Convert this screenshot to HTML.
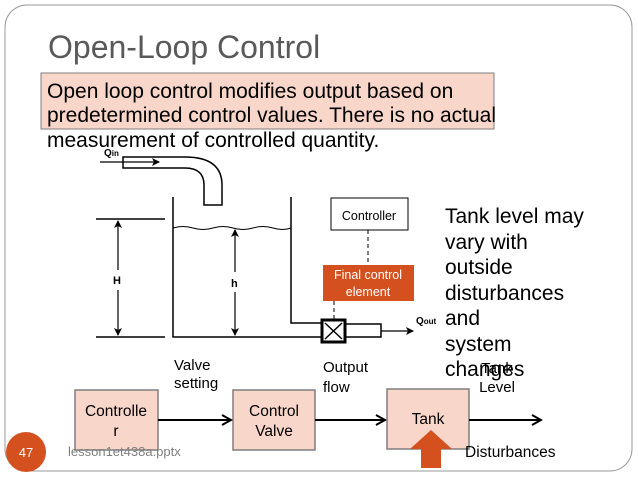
<!DOCTYPE html>
<html><head><style>html,body{margin:0;padding:0;background:#fff}svg{display:block}</style></head>
<body>
<svg width="638" height="478" viewBox="0 0 638 478" xmlns="http://www.w3.org/2000/svg" font-family="Liberation Sans, sans-serif">
<defs>
<marker id="a" markerWidth="8" markerHeight="8" refX="7" refY="4" orient="auto" markerUnits="userSpaceOnUse"><path d="M0,0 L8,4 L0,8 L2,4 Z" fill="#000"/></marker>
<marker id="b" markerWidth="12" markerHeight="12" refX="10" refY="6" orient="auto" markerUnits="userSpaceOnUse"><path d="M1,1 L10,6 L1,11" fill="none" stroke="#000" stroke-width="2"/></marker>
</defs>
<rect x="5" y="5" width="627" height="466" rx="22" fill="#fff" stroke="#999" stroke-width="1"/>
<text x="48" y="58" font-size="32" fill="#595959">Open-Loop Control</text>
<rect x="41" y="73" width="453" height="56" fill="#f8d6ca" stroke="#7f7f7f"/>
<g font-size="21" fill="#000">
<text x="47" y="98">Open loop control modifies output based on</text>
<text x="47" y="122">predetermined control values.  There is no actual</text>
<text x="47" y="147">measurement of controlled quantity.</text>
</g>
<g fill="none" stroke="#000" stroke-width="1.5">
<path d="M123,157 H185 Q222,157 222,185 V205 H204 V185 Q204,168 185,168 H123 Z"/>
<path d="M173,197 V337 H322"/>
<path d="M291,197 V323 H322"/>
<path d="M173,228 q10,-3 20,0 t20,0 t20,0 t20,0 t20,0 t18,0" stroke-width="1"/>
<line x1="96" y1="219" x2="165" y2="219"/>
<line x1="96" y1="337" x2="165" y2="337"/>
<rect x="345" y="324" width="36" height="13"/>
</g>
<line x1="100" y1="162" x2="159" y2="162" stroke="#000" stroke-width="1.2" marker-end="url(#a)"/>
<text x="104" y="156" font-size="10" font-weight="bold">Q<tspan font-size="8">in</tspan></text>
<line x1="118" y1="270" x2="118" y2="221" stroke="#000" stroke-width="1.2" marker-end="url(#a)"/>
<line x1="118" y1="290" x2="118" y2="335" stroke="#000" stroke-width="1.2" marker-end="url(#a)"/>
<text x="113" y="284" font-size="11" font-weight="bold">H</text>
<line x1="235" y1="272" x2="235" y2="230" stroke="#000" stroke-width="1.2" marker-end="url(#a)"/>
<line x1="235" y1="292" x2="235" y2="335" stroke="#000" stroke-width="1.2" marker-end="url(#a)"/>
<text x="231" y="287" font-size="11" font-weight="bold">h</text>
<rect x="322" y="320" width="23" height="22" fill="#fff" stroke="#000" stroke-width="3"/>
<path d="M325,323 L342,339 M342,323 L325,339" stroke="#000" stroke-width="1.5"/>
<line x1="381" y1="331" x2="413" y2="331" stroke="#000" stroke-width="1.2" marker-end="url(#a)"/>
<text x="416" y="324" font-size="10" font-weight="bold">Q<tspan font-size="8">out</tspan></text>
<rect x="331" y="198" width="77" height="32" fill="#fff" stroke="#000"/>
<text x="369" y="220" font-size="12.5" text-anchor="middle">Controller</text>
<line x1="368" y1="230" x2="368" y2="265" stroke="#000" stroke-dasharray="4,3"/>
<rect x="323" y="265" width="91" height="36" fill="#d4501f"/>
<text x="368" y="279" font-size="12.5" fill="#fff" text-anchor="middle">Final control</text>
<text x="368" y="296" font-size="12.5" fill="#fff" text-anchor="middle">element</text>
<line x1="334" y1="301" x2="334" y2="320" stroke="#000" stroke-dasharray="4,3"/>
<g font-size="21" fill="#000">
<text x="445" y="223">Tank level may</text>
<text x="445" y="249">vary with</text>
<text x="445" y="274">outside</text>
<text x="445" y="300">disturbances</text>
<text x="445" y="325">and</text>
<text x="445" y="351">system</text>
<text x="445" y="376">changes</text>
</g>
<g fill="#f8d6ca" stroke="#7f7f7f" stroke-width="1.5">
<rect x="75" y="390" width="83" height="60"/>
<rect x="233" y="390" width="82" height="60"/>
<rect x="387" y="389" width="82" height="60"/>
</g>
<g font-size="15.5" text-anchor="middle">
<text x="116" y="416">Controlle</text><text x="116" y="436">r</text>
<text x="274" y="416">Control</text><text x="274" y="436">Valve</text>
<text x="428" y="424">Tank</text>
</g>
<g stroke="#000" stroke-width="2">
<line x1="158" y1="420" x2="231" y2="420" marker-end="url(#b)"/>
<line x1="315" y1="420" x2="385" y2="420" marker-end="url(#b)"/>
<line x1="469" y1="420" x2="541" y2="420" marker-end="url(#b)"/>
</g>
<g font-size="15">
<text x="174" y="370">Valve</text><text x="174" y="388">setting</text>
<text x="323" y="372">Output</text><text x="323" y="392">flow</text>
<text x="497" y="373" text-anchor="middle">Tank</text><text x="497" y="392" text-anchor="middle">Level</text>
</g>
<path d="M431,430 L452,449 H441 V468 H421 V449 H410 Z" fill="#d4501f"/>
<text x="465" y="457" font-size="15.5">Disturbances</text>
<circle cx="26" cy="452" r="20" fill="#d4501f"/>
<text x="26" y="457" font-size="13" fill="#fff" text-anchor="middle">47</text>
<text x="68" y="456" font-size="13" fill="#7f7f7f">lesson1et438a.pptx</text>
</svg>
</body></html>
